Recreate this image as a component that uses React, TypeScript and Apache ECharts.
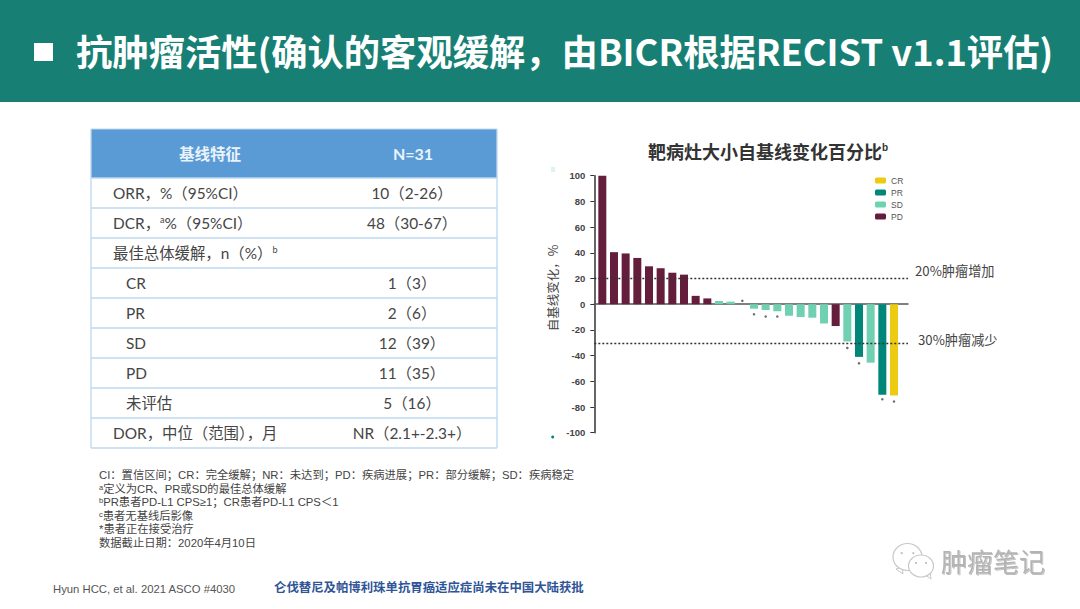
import React, { useEffect, useRef } from "react";
import * as echarts from "echarts";

const patients = [1,2,3,4,5,6,7,8,9,10,11,12,13,14,15,16,17,18,19,20,21,22,23,24,25,26];
const responses = ["PD","PD","PD","PD","PD","PD","PD","PD","PD","PD","SD","SD","SD","SD","SD","SD","SD","SD","SD","SD","PD","SD","PR","SD","PR","CR"];
const changes = [100,40.5,39.5,36,29.5,28,24.5,23,6.5,4.5,2.5,2,0,-3.5,-4.5,-5.5,-9,-10,-10.5,-15,-17,-29,-41,-45.5,-70.5,-71];
const legendOrder = ["CR","PR","SD","PD"];
const responseColors: Record<string,string> = { CR:"#eccb12", PR:"#00877a", SD:"#70d0b2", PD:"#641e3c" };
const ongoingPatients = [13,14,15,16,22,23,25,26];
const ongoingMarkerY = [2.6,-7.8,-9.6,-9.6,-34,-46,-74,-75.7];
const refLineValues = [20,-30];
const refLineLabels = ["20%肿瘤增加","30%肿瘤减少"];
const refLabelOffsets = [[0,-8],[3,-3]];

const headerTitle = "抗肿瘤活性(确认的客观缓解，由BICR根据RECIST v1.1评估)";
const chartTitleMain = "靶病灶大小自基线变化百分比";
const yAxisTitle = "自基线变化，%";
const tableHeader = ["基线特征","N=31"];
const rowLabels = [
  "ORR，%（95%CI）","DCR，{s|a}%（95%CI）","最佳总体缓解，n（%）{s|b}",
  "CR","PR","SD","PD","未评估","DOR，中位（范围），月",
];
const rowIndented = [false,false,false,true,true,true,true,true,false];
const rowValues = ["10（2-26）","48（30-67）","","1（3）","2（6）","12（39）","11（35）","5（16）","NR（2.1+-2.3+）"];
const rowLineY = [178,208,238,268,298,328,358,388,418,448];
const footnotes = [
  "CI：置信区间；CR：完全缓解；NR：未达到；PD：疾病进展；PR：部分缓解；SD：疾病稳定",
  "{s|a}定义为CR、PR或SD的最佳总体缓解",
  "{s|b}PR患者PD-L1 CPS≥1；CR患者PD-L1 CPS＜1",
  "{s|c}患者无基线后影像",
  "*患者正在接受治疗",
  "数据截止日期：2020年4月10日",
];
const footnoteY = [475,489,502,516,529,543];
const citation = "Hyun HCC, et al. 2021 ASCO #4030";
const disclaimer = "仑伐替尼及帕博利珠单抗胃癌适应症尚未在中国大陆获批";
const watermark = "肿瘤笔记";

const CJK = '"Noto Sans CJK SC"';
const BODY = 'Lato,"Noto Sans CJK SC"';
const ARIAL = '"Liberation Sans","Noto Sans CJK SC"';

function buildGraphics() {
  const g: any[] = [];
  g.push({ type:"rect", silent:true, z:-1, shape:{x:0,y:0,width:1080,height:102}, style:{fill:"#187f74"} });
  g.push({ type:"rect", shape:{x:34,y:43,width:19,height:18}, style:{fill:"#ffffff"} });
  g.push({ type:"text", x:76, y:50, style:{ text:headerTitle, fill:"#fff", font:`bold 36.3px ${CJK}`, textVerticalAlign:"middle" } });

  // table
  const L=91, R=497, T=129;
  g.push({ type:"rect", shape:{x:L,y:T,width:R-L,height:rowLineY[0]-T}, style:{fill:"#5b9bd5"} });
  rowLineY.forEach((y)=>g.push({ type:"line", shape:{x1:L,y1:y,x2:R,y2:y}, style:{stroke:"#bcd8f0",lineWidth:1.3} }));
  g.push({ type:"line", shape:{x1:L,y1:T,x2:R,y2:T}, style:{stroke:"#bcd8f0",lineWidth:1} });
  g.push({ type:"line", shape:{x1:L,y1:T,x2:L,y2:448}, style:{stroke:"#bcd8f0",lineWidth:1.3} });
  g.push({ type:"line", shape:{x1:R,y1:T,x2:R,y2:448}, style:{stroke:"#bcd8f0",lineWidth:1.3} });
  g.push({ type:"text", x:210, y:153, style:{ text:tableHeader[0], fill:"#eaf3fb", font:`bold 15.5px ${CJK}`, textAlign:"center", textVerticalAlign:"middle" } });
  g.push({ type:"text", x:413, y:153, style:{ text:tableHeader[1], fill:"#eaf3fb", font:`bold 16px ${BODY}`, textAlign:"center", textVerticalAlign:"middle" } });
  rowLabels.forEach((t,i)=>{
    const cy=(rowLineY[i]+rowLineY[i+1])/2;
    g.push({ type:"text", x:rowIndented[i]?126:113, y:cy, style:{ text:t, fill:"#454545", font:`15.4px ${BODY}`, textVerticalAlign:"middle",
      rich:{ s:{ fontSize:9, fill:"#454545", verticalAlign:"top", fontFamily:'Lato' } } } });
    if(rowValues[i]) g.push({ type:"text", x:412, y:cy, style:{ text:rowValues[i], fill:"#454545", font:`15.4px ${BODY}`, textAlign:"center", textVerticalAlign:"middle" } });
  });

  // footnotes
  footnotes.forEach((t,i)=>g.push({ type:"text", x:99, y:footnoteY[i], style:{ text:t, fill:"#444", font:`11.3px ${ARIAL}`, textVerticalAlign:"middle",
    rich:{ s:{ fontSize:7.5, fill:"#444", verticalAlign:"top", fontFamily:'"Liberation Sans"' } } } }));
  g.push({ type:"text", x:53, y:589, style:{ text:citation, fill:"#555", font:`11.3px ${ARIAL}`, textVerticalAlign:"middle" } });
  g.push({ type:"text", x:274, y:587, style:{ text:disclaimer, fill:"#2f5597", font:`bold 12.4px ${CJK}`, textVerticalAlign:"middle" } });

  // chart side texts & specks
  g.push({ type:"text", x:552, y:288, rotation:Math.PI/2, style:{ text:yAxisTitle, fill:"#444", font:`12.5px ${CJK}`, textAlign:"center", textVerticalAlign:"middle" } });
  g.push({ type:"rect", shape:{x:551,y:167,width:4,height:5}, style:{fill:"#dff3ee"} });
  g.push({ type:"circle", shape:{cx:552.7,cy:437,r:1.5}, style:{fill:"#00877a"} });

  // watermark
  const bubble=(cx:number,cy:number,rx:number,ry:number,tx:number,ty:number)=>{
    g.push({ type:"polygon", z:5, shape:{points:[[tx-7,ty-5],[tx,ty],[tx-1,ty-7]]}, style:{fill:"#fff",stroke:"#c8c8c8",lineWidth:1} });
    g.push({ type:"ellipse", z:5, shape:{cx,cy,rx,ry}, style:{fill:"#fff",stroke:"#c8c8c8",lineWidth:1.2} });
    [-0.4,0.4].forEach((d)=>g.push({ type:"circle", z:6, shape:{cx:cx+d*rx,cy:cy-ry*0.28,r:1}, style:{fill:"#bbb"} }));
  };
  bubble(907.5,557,14.5,13.5,903,574);
  bubble(921,566,12.5,11,931,579);
  g.push({ type:"text", x:941, y:560, style:{ text:watermark, fill:"#b4b4b4", font:`26px ${CJK}`, textVerticalAlign:"middle", textShadowColor:"rgba(0,0,0,0.25)", textShadowBlur:1, textShadowOffsetX:1, textShadowOffsetY:1 } as any });
  return g;
}

export default function App() {
  const ref = useRef<HTMLDivElement>(null);
  useEffect(() => {
    if (!ref.current) return;
    const chart = echarts.init(ref.current, undefined, { renderer: "svg" });
    const barSeries = legendOrder.map((name, si) => ({
      name, type:"bar", barWidth:8, barGap:"-100%", z:2,
      itemStyle:{ color:responseColors[name] },
      data:patients.map((p,i)=>responses[i]===name && changes[i]!==0 ? [p,changes[i]] : null).filter(Boolean),
      ...(si===0 ? { markLine:{
        silent:true, symbol:"none", z:5,
        lineStyle:{ type:[2,2], color:"#333", width:1.3 },
        data:refLineValues.map((y,i)=>({ yAxis:y, name:refLineLabels[i], label:{ offset:refLabelOffsets[i] } })),
        label:{ show:true, position:"end", formatter:"{b}", distance:7, fontSize:13.2, color:"#444", fontFamily:CJK },
      } } : {}),
    }));
    chart.setOption({
      animation:false,
      backgroundColor:"#ffffff",
      title:{
        text:`{m|${chartTitleMain}}{s|b}`, left:648, top:142, padding:0,
        textStyle:{ rich:{
          m:{ fontSize:18, fontWeight:"bold", color:"#333", fontFamily:CJK },
          s:{ fontSize:10, color:"#333", verticalAlign:"top", fontFamily:'"Liberation Sans"' },
        } },
      },
      legend:{
        data:legendOrder, orient:"vertical", left:875, top:176, itemWidth:11, itemHeight:6, itemGap:3, padding:0,
        textStyle:{ fontSize:8.5, color:"#555", fontFamily:'"Liberation Sans"' },
      },
      grid:{ left:594.3, top:175.7, width:313.7, height:257 },
      xAxis:{
        type:"value", min:0.313, max:27.2,
        axisLine:{ show:true, onZero:true, lineStyle:{ color:"#555", width:1.5 } },
        axisTick:{ show:false }, axisLabel:{ show:false }, splitLine:{ show:false },
      },
      yAxis:{
        type:"value", min:-100, max:100, interval:20,
        axisLine:{ show:true, onZero:false, lineStyle:{ color:"#333", width:1.5 } },
        axisTick:{ show:true, length:4, lineStyle:{ color:"#333", width:1 } },
        axisLabel:{ fontSize:9.5, fontWeight:"bold", color:"#444", margin:9, fontFamily:'"Liberation Sans"' },
        splitLine:{ show:false },
      },
      series:[
        ...barSeries,
        { name:"ongoing", type:"scatter", symbol:"circle", symbolSize:2.5, z:3, itemStyle:{ color:"#444" },
          data:ongoingPatients.map((p,i)=>[p,ongoingMarkerY[i]]) },
      ],
      graphic:buildGraphics(),
    });
    return () => chart.dispose();
  }, []);
  return <div ref={ref} style={{ position:"fixed", left:0, top:0, width:1080, height:609 }} />;
}
